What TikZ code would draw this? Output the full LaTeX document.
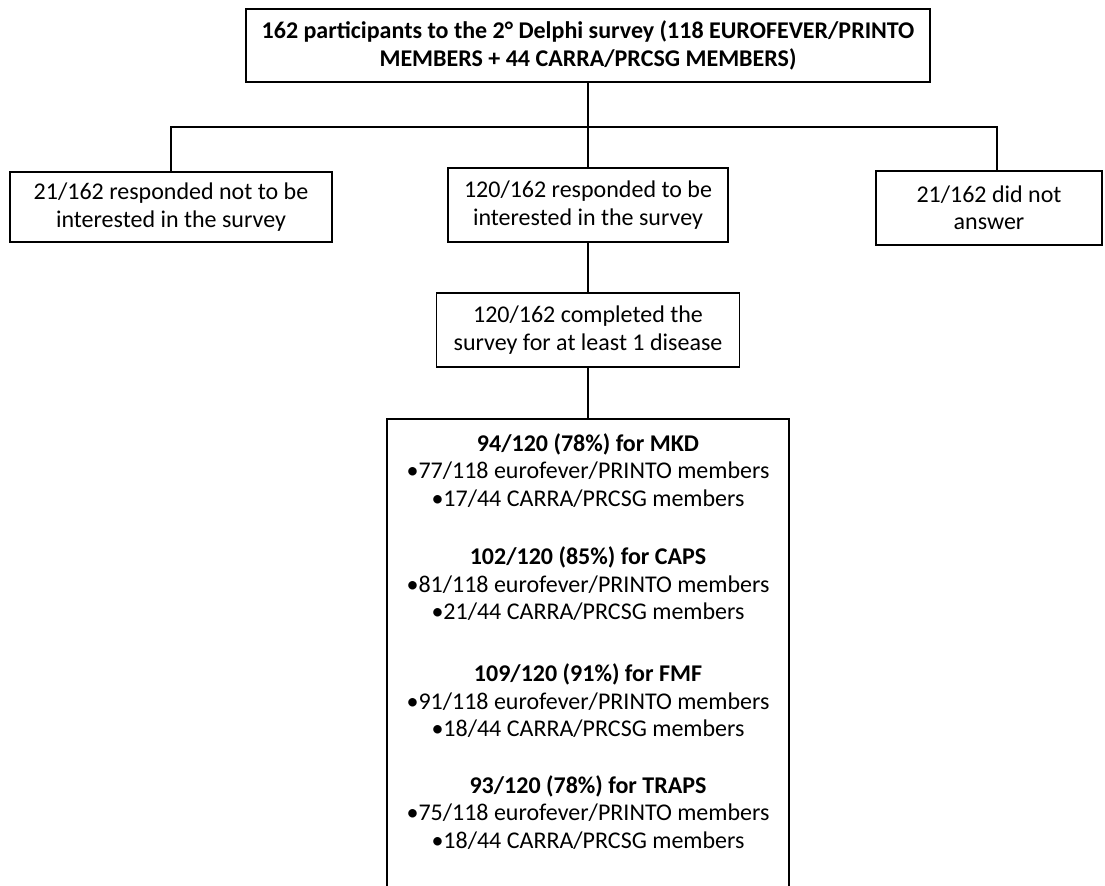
\documentclass[tikz,border=0pt]{standalone}
\usepackage{fontspec}
\setmainfont{Carlito}

\begin{document}
\begin{tikzpicture}[x=0.5pt, y=-0.5pt, line width=0.85pt,
    font=\fontsize{12}{13.75}\selectfont,
    box/.style={draw, align=center, inner sep=0pt},
    res/.style={align=center, inner sep=0pt}]
    \useasboundingbox (0,0) rectangle (1105,886);

    \node[box, font=\fontsize{12}{13.75}\selectfont\bfseries, minimum width=342pt, minimum height=36.5pt] (all) at (588,45.5)
        {162 participants to the 2° Delphi survey (118 EUROFEVER/PRINTO\\MEMBERS + 44 CARRA/PRCSG MEMBERS)};
    \node[box, minimum width=161pt, minimum height=35pt] (notint) at (171,207) {21/162 responded not to be\\interested in the survey};
    \node[box, minimum width=140pt, minimum height=37pt] (int) at (588,205) {120/162 responded to be\\interested in the survey};
    \node[box, minimum width=113pt, minimum height=37pt] (noans) at (989,208) {21/162 did not\\answer};
    \node[box, minimum width=151.5pt, minimum height=37pt] (done) at (588,330) {120/162 completed the\\survey for at least 1 disease};
    \node[box, anchor=north, minimum width=201pt, minimum height=245pt] (results) at (588,418) {};

    \node[res] (mkd) at (588,470.5) {\textbf{94/120 (78\%) for MKD}\\•77/118 eurofever/PRINTO members\\•17/44 CARRA/PRCSG members};
    \node[res] (caps) at (588,584) {\textbf{102/120 (85\%) for CAPS}\\•81/118 eurofever/PRINTO members\\•21/44 CARRA/PRCSG members};
    \node[res] (fmf) at (588,701) {\textbf{109/120 (91\%) for FMF}\\•91/118 eurofever/PRINTO members\\•18/44 CARRA/PRCSG members};
    \node[res] (traps) at (588,812.5) {\textbf{93/120 (78\%) for TRAPS}\\•75/118 eurofever/PRINTO members\\•18/44 CARRA/PRCSG members};

    \coordinate (split) at (588,127);
    \coordinate (rdrop) at (997,127);
    \draw (all) to (split);
    \draw (notint.north) |- (rdrop) to (rdrop |- noans.north);
    \draw (int) to (split);
    \draw (int) to (done);
    \draw (done) to (results);
\end{tikzpicture}
\end{document}
